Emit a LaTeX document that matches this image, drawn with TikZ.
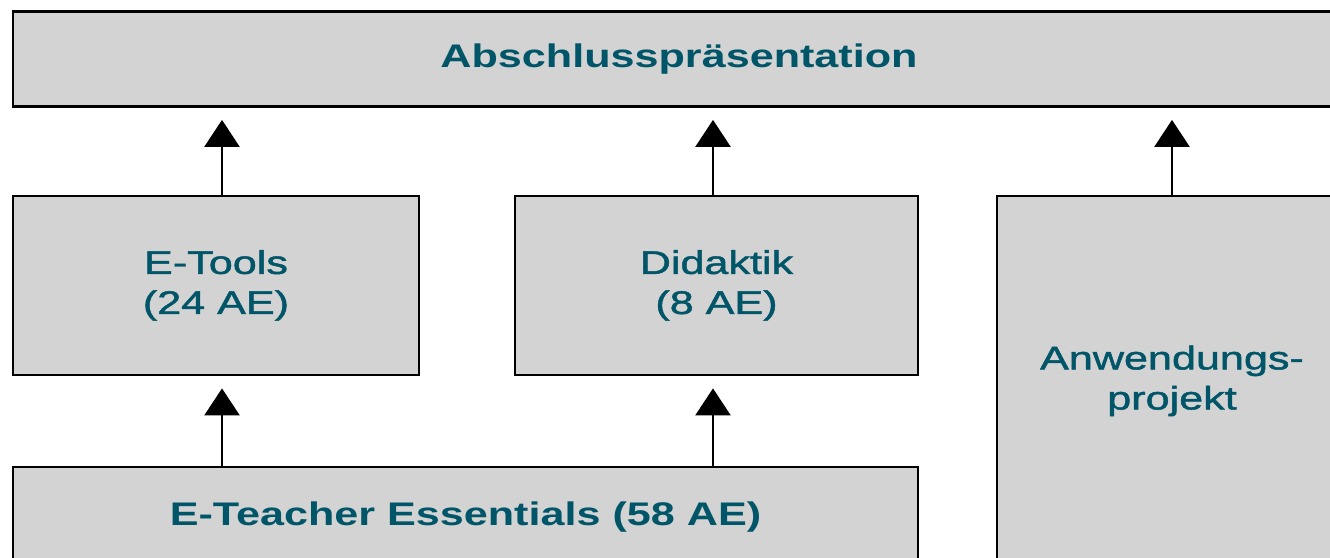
\documentclass[tikz,border=0pt]{standalone}
\usepackage{fontspec}
\setmainfont{Liberation Sans}[FakeStretch=1.32]
\newfontfamily\medfont{Liberation Sans}[FakeStretch=1.32, FakeBold=1.5]
\usetikzlibrary{arrows.meta}
\definecolor{boxgray}{RGB}{211,211,211}
\definecolor{tealtext}{RGB}{0,86,104}

\begin{document}
\begin{tikzpicture}[every node/.style={font=\fontsize{9.3}{11.4}\selectfont}]
  \tikzstyle{unit}=[rectangle, draw=black, line width=0.8pt, fill=boxgray, text=tealtext, align=center, inner sep=0pt]
  \tikzstyle{uparrow}=[-{Triangle[width=3.5mm,length=2.7mm]}, line width=0.7pt, shorten >=1.2mm]
  \useasboundingbox (0,0) rectangle (13.3,5.58);
  \clip (0,0) rectangle (13.3,5.58);
  \node[unit, minimum width=13.32cm, minimum height=0.95cm, font=\fontsize{9.3}{11.4}\selectfont\bfseries] (praes) at (6.79,4.99) {Abschlusspr\"asentation};
  \node[unit, minimum width=4.06cm, minimum height=1.79cm, font=\fontsize{9.3}{11.4}\medfont] (etools) at (2.16,2.725) {E-Tools\\(24 AE)};
  \node[unit, minimum width=4.03cm, minimum height=1.79cm, font=\fontsize{9.3}{11.4}\medfont] (didaktik) at (7.165,2.725) {Didaktik\\(8 AE)};
  \node[unit, minimum width=3.50cm, minimum height=3.70cm, font=\fontsize{9.3}{11.4}\medfont] (anwend) at (11.72,1.77) {Anwendungs-\\projekt};
  \node[unit, minimum width=9.05cm, minimum height=1.00cm, font=\fontsize{9.3}{11.4}\selectfont\bfseries] (essent) at (4.655,0.41) {E-Teacher Essentials (58 AE)};
  \foreach \a/\s in {etools/0.06, didaktik/-0.035, anwend/0}{
    \draw[uparrow] ([xshift=\s cm]\a.north) -- ([xshift=\s cm]\a.north |- praes.south);
  }
  \foreach \a/\s in {etools/0.06, didaktik/-0.035}{
    \draw[uparrow] ([xshift=\s cm]\a.south |- essent.north) -- ([xshift=\s cm]\a.south);
  }
\end{tikzpicture}
\end{document}
